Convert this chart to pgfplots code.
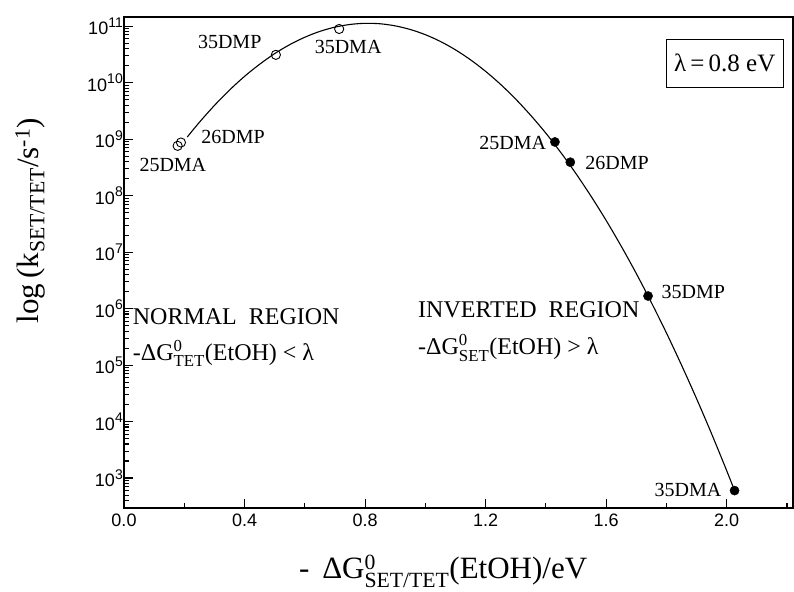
\documentclass[border=0pt]{standalone}
\usepackage{fontspec}
\setmainfont{Liberation Serif}
\setsansfont{Liberation Sans}
\usepackage{amsmath}
\usepackage{pgfplots}
\pgfplotsset{compat=1.18}
\newcommand{\dec}[1]{10\raisebox{0.42em}{\fontsize{14}{14}\selectfont #1}}
\begin{document}
\begin{tikzpicture}
\begin{axis}[
  scale only axis, width=669pt, height=491pt,
  xmin=0, xmax=2.22, ymin=2.95e2, ymax=1.45e11, ymode=log,
  axis line style={line width=1.3pt},
  xtick={0,0.4,0.8,1.2,1.6,2.0},
  xticklabels={0.0,0.4,0.8,1.2,1.6,2.0},
  minor xtick={0.2,0.6,1.0,1.4,1.8,2.2},
  ytick={1e3,1e4,1e5,1e6,1e7,1e8,1e9,1e10,1e11},
  yticklabels={\dec{3},\dec{4},\dec{5},\dec{6},\dec{7},\dec{8},\dec{9},\dec{10},\dec{11}},
  minor ytick={3e2,4e2,5e2,6e2,7e2,8e2,9e2,
    2e3,3e3,4e3,5e3,6e3,7e3,8e3,9e3,
    2e4,3e4,4e4,5e4,6e4,7e4,8e4,9e4,
    2e5,3e5,4e5,5e5,6e5,7e5,8e5,9e5,
    2e6,3e6,4e6,5e6,6e6,7e6,8e6,9e6,
    2e7,3e7,4e7,5e7,6e7,7e7,8e7,9e7,
    2e8,3e8,4e8,5e8,6e8,7e8,8e8,9e8,
    2e9,3e9,4e9,5e9,6e9,7e9,8e9,9e9,
    2e10,3e10,4e10,5e10,6e10,7e10,8e10,9e10},
  tick align=inside, xtick pos=bottom, ytick pos=left,
  major tick length=9pt, minor tick length=5pt,
  tick style={line width=1.1pt, black},
  xticklabel style={font=\sffamily\fontsize{18}{18}\selectfont, yshift=-2pt},
  yticklabel style={font=\sffamily\fontsize{18}{18}\selectfont, inner sep=1pt},
  xlabel={\fontsize{31}{32}\selectfont -\ \,ΔG$^{\text{0}}_{\text{SET/TET}}$(EtOH)/eV},
  xlabel style={at={(axis description cs:0.477,-0.143)}, anchor=base},
  ylabel={\fontsize{31}{32}\selectfont log\,(k\textsubscript{SET/TET}/s\textsuperscript{-1})},
  ylabel style={at={(axis description cs:-0.14,0.585)}, anchor=center},
  clip=false,
]
\addplot[black, line width=1.1pt, smooth] coordinates {
(0.21,1.09e9) (0.25,1.98e9) (0.30,3.94e9) (0.35,7.36e9) (0.40,1.29e10)
(0.45,2.11e10) (0.50,3.26e10) (0.55,4.70e10) (0.60,6.35e10) (0.65,8.07e10)
(0.70,9.59e10) (0.75,1.07e11) (0.80,1.12e11) (0.85,1.10e11) (0.90,1.01e11)
(0.95,8.71e10) (1.00,7.05e10) (1.05,5.35e10) (1.10,3.80e10) (1.15,2.53e10)
(1.20,1.58e10) (1.25,9.27e9) (1.30,5.09e9) (1.35,2.62e9) (1.40,1.27e9)
(1.45,5.74e8) (1.50,2.44e8) (1.55,9.70e7) (1.60,3.63e7) (1.65,1.27e7)
(1.70,4.17e6) (1.75,1.28e6) (1.80,3.70e5) (1.85,1.00e5) (1.90,2.54e4)
(1.95,6.05e3) (2.00,1.35e3) (2.026,6.0e2)};
\addplot[only marks, mark=o, mark size=4.6pt, mark options={line width=0.9pt, fill=white, draw=black}] coordinates {
(0.178,7.6e8) (0.189,8.7e8) (0.504,3.1e10) (0.714,8.9e10)};
\addplot[only marks, mark=*, mark size=4.6pt, mark options={fill=black, draw=black}] coordinates {
(1.430,8.9e8) (1.481,3.9e8) (1.739,1.67e6) (2.026,6.0e2)};
\begin{scope}[every node/.style={font=\fontsize{20}{22}\selectfont, inner sep=0pt}]
\node at (axis description cs:0.158,0.949) {35DMP};
\node at (axis description cs:0.335,0.939) {35DMA};
\node at (axis description cs:0.163,0.756) {26DMP};
\node at (axis description cs:0.073,0.699) {25DMA};
\node at (axis description cs:0.581,0.743) {25DMA};
\node at (axis description cs:0.737,0.703) {26DMP};
\node at (axis description cs:0.851,0.440) {35DMP};
\node at (axis description cs:0.843,0.037) {35DMA};
\end{scope}
\begin{scope}[every node/.style={font=\fontsize{24}{26}\selectfont, inner sep=0pt}]
\node[anchor=base west] at (axis description cs:0.013,0.373) {NORMAL\ \ REGION};
\node[anchor=base west] at (axis description cs:0.013,0.301) {-ΔG$^{\text{0}}_{\text{TET}}$(EtOH) < λ};
\node[anchor=base west] at (axis description cs:0.4395,0.387) {INVERTED\ \ REGION};
\node[anchor=base west] at (axis description cs:0.4395,0.312) {-ΔG$^{\text{0}}_{\text{SET}}$(EtOH) > λ};
\end{scope}
\node[draw=black, line width=0.9pt, minimum width=117pt, minimum height=48pt, inner sep=0pt,
  font=\fontsize{25}{27}\selectfont] at (axis description cs:0.898,0.906) {λ\,=\,0.8 eV};
\end{axis}
\pgfresetboundingbox
\path[use as bounding box] ([xshift=-124pt,yshift=-83pt]current axis.south west) rectangle ([xshift=1pt,yshift=17pt]current axis.north east);
\end{tikzpicture}
\end{document}
